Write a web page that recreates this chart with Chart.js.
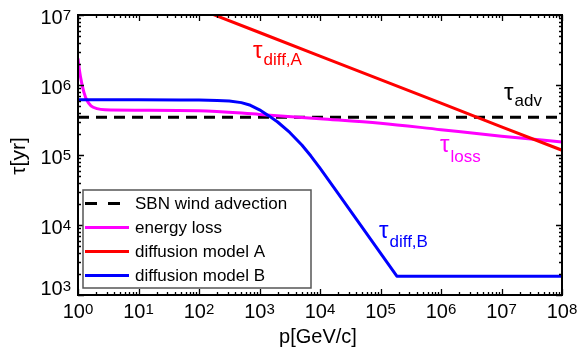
<!DOCTYPE html>
<html>
<head>
<meta charset="utf-8">
<script src="https://cdn.jsdelivr.net/npm/chart.js@4.4.0/dist/chart.umd.min.js"></script>
<style>
  html, body { margin: 0; padding: 0; background: #fff; }
  canvas { display: block; }
</style>
</head>
<body>
<canvas id="chartCanvas" width="579" height="354"></canvas>
<script>
(function() {
  'use strict';

  // tick exponents (labels 10^n)
  var xExponents = [0, 1, 2, 3, 4, 5, 6, 7, 8];
  var yExponents = [3, 4, 5, 6, 7];

  // SBN wind advection
  var advP = [1, 1e8];
  var advTau = [3.45e5, 3.45e5];

  // energy loss
  var lossP = [1, 1.059, 1.143, 1.257, 1.409, 1.64, 2.06, 2.79, 10, 100, 1e3, 1e4, 1e5, 1e6, 1e7, 1e8];
  var lossTau = [2.4e6, 1.6e6, 1.1e6, 7.8e5, 6.0e5, 5.05e5, 4.6e5, 4.42e5, 4.36e5, 4.3e5, 3.8e5, 3.3e5, 2.85e5, 2.3e5, 1.86e5, 1.53e5];

  // diffusion model A
  var diffAP = [100, 1e3, 1e4, 1e5, 1e6, 1e7, 1e8];
  var diffATau = [1.22e7, 5.62e6, 2.59e6, 1.19e6, 5.5e5, 2.53e5, 1.17e5];

  // diffusion model B
  var diffBP = [1, 10, 50, 100, 200, 316, 501, 708, 1000, 1413, 1995, 3162, 5012, 7079, 1e4, 18197, 186209, 1e8];
  var diffBTau = [6.17e5, 6.17e5, 6.12e5, 6.1e5, 6.02e5, 5.92e5, 5.6e5, 5.13e5, 4.42e5, 3.65e5, 2.96e5, 2.1e5, 1.39e5, 9.66e4, 6.49e4, 3.16e4, 1.86e3, 1.86e3];

  var legendNames = ['SBN wind advection', 'energy loss', 'diffusion model A', 'diffusion model B'];
  var lineColors = ['#000000', '#ff00ff', '#ff0000', '#0000ff'];

  function toPoints(xs, ys) {
    return xs.map(function(x, i) { return { x: x, y: ys[i] }; });
  }

  var FONT = '"Liberation Sans", Arial, sans-serif';

  function drawPower(ctx, exp, x, y, align) {
    ctx.font = '20px ' + FONT;
    var wBase = ctx.measureText('10').width;
    ctx.font = '15px ' + FONT;
    var wExp = ctx.measureText(String(exp)).width;
    var total = wBase + wExp;
    var left = align === 'center' ? x - total / 2 : x - total;
    ctx.textAlign = 'left';
    ctx.textBaseline = 'alphabetic';
    ctx.font = '20px ' + FONT;
    ctx.fillText('10', left, y);
    ctx.font = '15px ' + FONT;
    ctx.fillText(String(exp), left + wBase, y - 4);
  }

  function drawTau(ctx, sub, x, y, subDy, color) {
    ctx.fillStyle = color;
    ctx.textAlign = 'left';
    ctx.textBaseline = 'alphabetic';
    ctx.font = '24px ' + FONT;
    ctx.fillText('\u03c4', x, y);
    var w = ctx.measureText('\u03c4').width;
    ctx.font = '17px ' + FONT;
    ctx.fillText(sub, x + w + 1, y + subDy);
  }

  var framePlugin = {
    id: 'framePlugin',
    afterDraw: function(chart) {
      var ctx = chart.ctx;
      var a = chart.chartArea;
      var xs = chart.scales.x;
      var ys = chart.scales.y;
      ctx.save();

      // ticks
      ctx.strokeStyle = '#000';
      ctx.lineWidth = 1.3;
      ctx.beginPath();
      var d, m, v, p, len;
      for (d = xExponents[0]; d <= xExponents[xExponents.length - 1]; d++) {
        for (m = 1; m <= 9; m++) {
          if (d === xExponents[xExponents.length - 1] && m > 1) break;
          v = m * Math.pow(10, d);
          p = Math.round(xs.getPixelForValue(v)) + 0.5;
          len = m === 1 ? 6 : 3;
          ctx.moveTo(p, a.bottom); ctx.lineTo(p, a.bottom - len);
          ctx.moveTo(p, a.top); ctx.lineTo(p, a.top + len);
        }
      }
      for (d = yExponents[0]; d <= yExponents[yExponents.length - 1]; d++) {
        for (m = 1; m <= 9; m++) {
          if (d === yExponents[yExponents.length - 1] && m > 1) break;
          v = m * Math.pow(10, d);
          p = Math.round(ys.getPixelForValue(v)) + 0.5;
          len = m === 1 ? 6 : 3;
          ctx.moveTo(a.left, p); ctx.lineTo(a.left + len, p);
          ctx.moveTo(a.right, p); ctx.lineTo(a.right - len, p);
        }
      }
      ctx.stroke();

      // frame
      ctx.lineWidth = 2;
      ctx.strokeRect(a.left, a.top, a.right - a.left, a.bottom - a.top);

      // tick labels
      ctx.fillStyle = '#000';
      xExponents.forEach(function(e) {
        drawPower(ctx, e, xs.getPixelForValue(Math.pow(10, e)), 318, 'center');
      });
      yExponents.forEach(function(e, i) {
        var py = ys.getPixelForValue(Math.pow(10, e));
        drawPower(ctx, e, 71, i === 0 ? py : py + 8.5, 'right');
      });

      // axis titles
      ctx.font = '20px ' + FONT;
      ctx.textAlign = 'center';
      ctx.textBaseline = 'alphabetic';
      ctx.fillText('p[GeV/c]', 318, 343);
      ctx.save();
      ctx.translate(25, 156);
      ctx.rotate(-Math.PI / 2);
      ctx.font = '21px ' + FONT;
      ctx.fillText('\u03c4[yr]', 0, 0);
      ctx.restore();

      // curve labels
      drawTau(ctx, 'diff,A', 253, 58, 7, '#ff0000');
      drawTau(ctx, 'adv', 504, 100, 6, '#000000');
      drawTau(ctx, 'loss', 440, 152, 10, '#ff00ff');
      drawTau(ctx, 'diff,B', 379, 238, 9, '#0000ff');

      // legend
      var lx = 83, ly = 190, lw = 228, lh = 98;
      ctx.fillStyle = '#fff';
      ctx.fillRect(lx, ly, lw, lh);
      ctx.strokeStyle = '#555';
      ctx.lineWidth = 1.5;
      ctx.strokeRect(lx, ly, lw, lh);
      legendNames.forEach(function(name, i) {
        var yy = 203.5 + i * 24;
        ctx.strokeStyle = lineColors[i];
        ctx.lineWidth = 3;
        ctx.setLineDash(i === 0 ? [12, 11] : []);
        ctx.beginPath();
        ctx.moveTo(85, yy);
        ctx.lineTo(129, yy);
        ctx.stroke();
        ctx.setLineDash([]);
        ctx.fillStyle = '#000';
        ctx.font = '17px ' + FONT;
        ctx.textAlign = 'left';
        ctx.textBaseline = 'middle';
        ctx.fillText(name, 135, yy + 1);
      });

      ctx.restore();
    }
  };

  function makeSet(i, xs, ys, order, extra) {
    var ds = {
      label: legendNames[i],
      data: toPoints(xs, ys),
      borderColor: lineColors[i],
      backgroundColor: lineColors[i],
      borderWidth: 3,
      pointRadius: 0,
      fill: false,
      order: order
    };
    for (var k in extra) ds[k] = extra[k];
    return ds;
  }

  function init() {
    var ctx = document.getElementById('chartCanvas').getContext('2d');
    new Chart(ctx, {
      type: 'line',
      data: {
        datasets: [
          makeSet(0, advP, advTau, 4, { borderDash: [11, 7] }),
          makeSet(1, lossP, lossTau, 3, { cubicInterpolationMode: 'monotone' }),
          makeSet(2, diffAP, diffATau, 2, {}),
          makeSet(3, diffBP, diffBTau, 1, { tension: 0, borderJoinStyle: 'round' })
        ]
      },
      options: {
        responsive: false,
        devicePixelRatio: 1,
        animation: false,
        layout: { padding: { left: 78, top: 15, right: 17, bottom: 59 } },
        plugins: { legend: { display: false }, tooltip: { enabled: false } },
        scales: {
          x: { type: 'logarithmic', min: 1, max: 1e8, display: false },
          y: { type: 'logarithmic', min: 1e3, max: 1e7, display: false }
        }
      },
      plugins: [framePlugin]
    });
  }

  document.addEventListener('DOMContentLoaded', init);
})();
</script>
</body>
</html>
